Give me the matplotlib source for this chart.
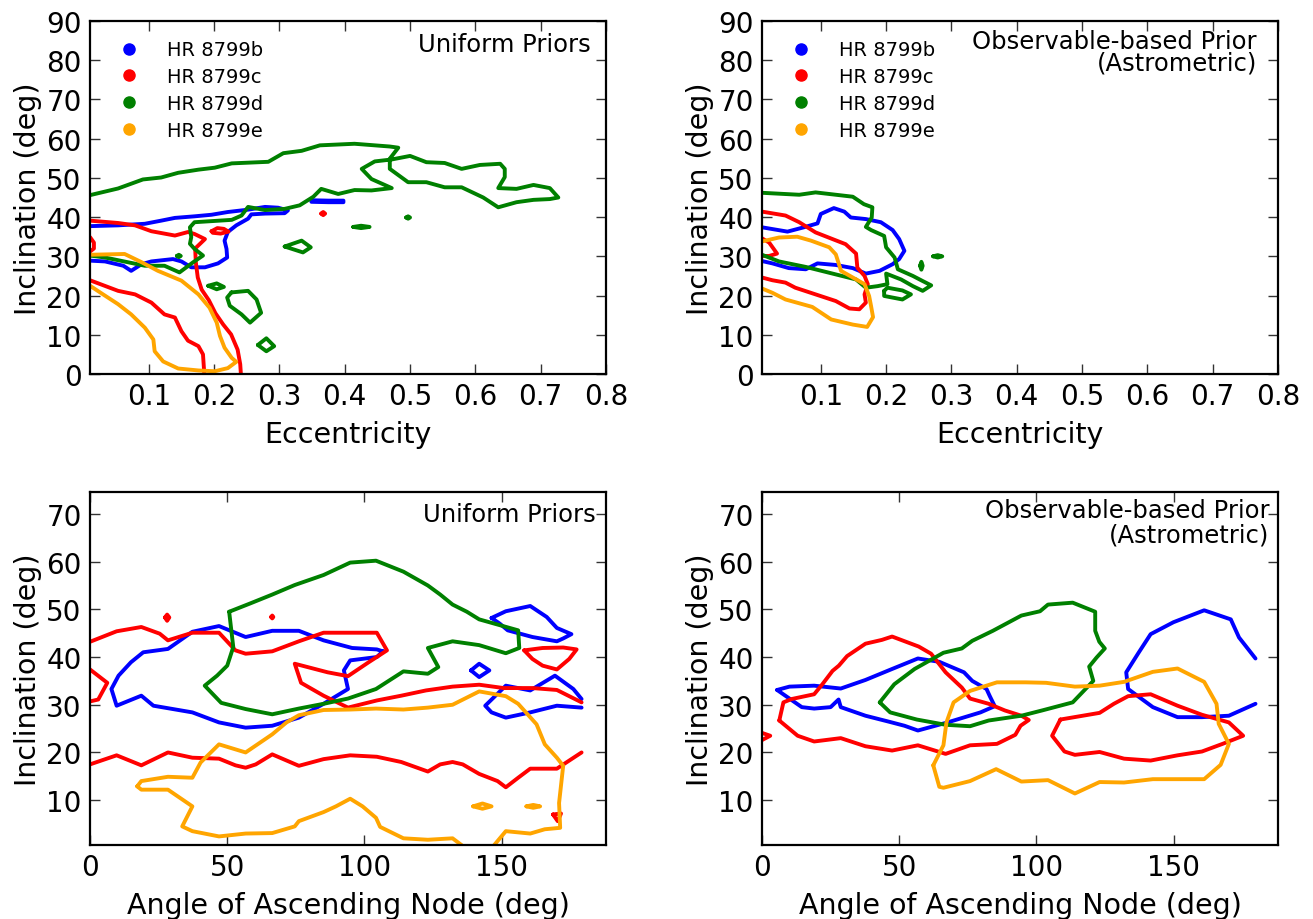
import numpy as np
import matplotlib
matplotlib.use("Agg")
import matplotlib.pyplot as plt
from matplotlib.lines import Line2D

# ---------------- data (contour vertices) ----------------
planets = ["HR 8799b", "HR 8799c", "HR 8799d", "HR 8799e"]
colors = ["#0000ff", "#ff0000", "#008000", "#ffa500"]

ecc_ticks = [0.1, 0.2, 0.3, 0.4, 0.5, 0.6, 0.7, 0.8]
inc_ticks_top = [0, 10, 20, 30, 40, 50, 60, 70, 80, 90]
node_ticks = [0, 50, 100, 150]
inc_ticks_bot = [10, 20, 30, 40, 50, 60, 70]

# ---- Top-left: eccentricity vs inclination, uniform priors ----
tl_b1_e = [0.01, 0.053, 0.094, 0.119, 0.140, 0.170, 0.196, 0.221, 0.252, 0.278, 0.298, 0.313, 0.308, 0.278,
           0.257, 0.252, 0.234, 0.221, 0.216, 0.219, 0.220, 0.206, 0.186, 0.165, 0.150, 0.137, 0.104, 0.089,
           0.073, 0.061, 0.033, 0.01]
tl_b1_i = [37.7, 37.9, 38.3, 39.1, 39.8, 40.2, 40.6, 41.3, 41.9, 42.6, 42.4, 41.7, 41.0, 40.9,
           40.7, 39.6, 37.9, 36.2, 34.0, 31.9, 29.7, 28.2, 27.2, 27.2, 28.7, 29.3, 28.7, 28.0,
           26.3, 27.6, 28.7, 28.9]
tl_b2_e = [0.349, 0.375, 0.398, 0.398, 0.375, 0.349]
tl_b2_i = [44.3, 44.2, 44.2, 43.8, 43.8, 43.9]

tl_c1_e = [0.01, 0.053, 0.079, 0.104, 0.140, 0.160, 0.170, 0.186, 0.171, 0.172, 0.175, 0.181, 0.192, 0.202,
           0.214, 0.226, 0.236, 0.240, 0.241]
tl_c1_i = [39.1, 38.5, 37.9, 36.4, 35.3, 36.2, 35.7, 34.4, 32.0, 28.5, 24.6, 21.5, 18.8, 15.5,
           12.6, 10.1, 6.2, 2.5, 0.0]
tl_c2_e = [0.01, 0.053, 0.079, 0.104, 0.124, 0.140, 0.150, 0.160, 0.176, 0.183, 0.185]
tl_c2_i = [23.9, 21.2, 20.3, 18.2, 15.2, 14.4, 10.9, 8.5, 7.1, 5.0, 0.0]
tl_c3_e = [0.01, 0.016, 0.016, 0.01]
tl_c3_i = [34.9, 33.5, 32.0, 31.2]
tl_c4_e = [0.196, 0.205, 0.215, 0.222, 0.210, 0.198]
tl_c4_i = [36.4, 37.2, 37.0, 36.3, 35.8, 36.0]
tl_c5_e = [0.364, 0.367, 0.370, 0.367]
tl_c5_i = [40.9, 41.3, 40.9, 40.5]

tl_d1_e = [0.01, 0.053, 0.091, 0.119, 0.145, 0.176, 0.201, 0.227, 0.283, 0.306, 0.334, 0.362, 0.415, 0.469,
           0.482, 0.469, 0.469, 0.497, 0.525, 0.553, 0.579, 0.612, 0.635, 0.663, 0.689, 0.714, 0.727, 0.714,
           0.689, 0.663, 0.635, 0.645, 0.645, 0.638, 0.607, 0.579, 0.553, 0.525, 0.500, 0.472, 0.446, 0.426,
           0.441, 0.472, 0.441, 0.415, 0.390, 0.364, 0.352, 0.331, 0.308, 0.278, 0.252, 0.242, 0.227, 0.170,
           0.163, 0.165, 0.163, 0.170, 0.183, 0.168, 0.147, 0.124, 0.094, 0.033, 0.01]
tl_d1_i = [45.6, 47.3, 49.6, 50.1, 51.3, 52.1, 52.6, 53.7, 54.1, 56.3, 56.9, 58.3, 58.7, 58.0,
           57.7, 54.9, 52.3, 48.9, 48.9, 47.6, 47.6, 45.0, 42.5, 43.8, 44.4, 44.6, 45.0, 47.4,
           48.2, 47.2, 47.4, 50.2, 52.3, 53.6, 53.3, 52.3, 53.8, 54.0, 55.6, 54.7, 54.2, 52.3,
           49.7, 47.4, 46.8, 46.9, 45.9, 47.2, 45.2, 43.0, 42.1, 41.8, 42.6, 40.4, 39.3, 38.7,
           37.4, 34.9, 33.2, 31.9, 30.2, 28.5, 25.9, 27.6, 27.6, 29.7, 30.2]
tl_d2_e = [0.191, 0.204, 0.215, 0.204]
tl_d2_i = [22.5, 23.1, 22.2, 21.6]
tl_d3_e = [0.2265, 0.252, 0.265, 0.272, 0.255, 0.242, 0.224, 0.220]
tl_d3_i = [20.8, 21.2, 19.0, 15.6, 13.1, 15.2, 17.4, 19.5]
tl_d4_e = [0.267, 0.280, 0.292, 0.280]
tl_d4_i = [7.4, 9.1, 7.1, 5.8]
tl_d5_e = [0.308, 0.334, 0.348, 0.336]
tl_d5_i = [32.5, 34.0, 32.3, 31.0]
tl_d6_e = [0.413, 0.425, 0.438, 0.425]
tl_d6_i = [37.5, 37.8, 37.5, 37.2]
tl_d7_e = [0.494, 0.497, 0.500, 0.497]
tl_d7_i = [39.9, 40.2, 39.9, 39.6]
tl_d8_e = [0.143, 0.146, 0.149, 0.146]
tl_d8_i = [30.1, 30.4, 30.1, 29.8]

tl_e1_e = [0.01, 0.063, 0.089, 0.114, 0.150, 0.176, 0.193, 0.204, 0.209, 0.216, 0.227, 0.234, 0.221, 0.201,
           0.176, 0.145, 0.122, 0.109, 0.107, 0.094, 0.073, 0.053, 0.030, 0.01]
tl_e1_i = [30.4, 30.6, 28.5, 26.3, 23.8, 20.3, 16.9, 13.1, 9.7, 6.7, 4.1, 3.1, 1.5, 0.7,
           0.9, 1.4, 3.2, 5.8, 8.8, 11.8, 15.2, 17.8, 20.3, 22.5]

# ---- Top-right: eccentricity vs inclination, observable-based prior ----
tr_b1_e = [0.01, 0.049, 0.074, 0.095, 0.100, 0.120, 0.136, 0.146, 0.169, 0.192, 0.210, 0.220, 0.228, 0.220,
           0.210, 0.190, 0.169, 0.149, 0.123, 0.095, 0.077, 0.051, 0.026, 0.01]
tr_b1_i = [37.4, 36.3, 37.4, 38.4, 40.8, 42.3, 41.4, 39.9, 39.5, 38.7, 36.7, 34.4, 31.4, 29.3,
           28.0, 26.3, 25.6, 27.0, 27.8, 28.2, 26.7, 27.0, 28.2, 28.8]

tr_c1_e = [0.01, 0.046, 0.067, 0.092, 0.118, 0.138, 0.154, 0.156, 0.167, 0.172, 0.167, 0.169, 0.159, 0.144,
           0.123, 0.092, 0.061, 0.046, 0.026, 0.01]
tr_c1_i = [41.4, 40.4, 38.7, 36.1, 34.4, 33.1, 30.7, 27.1, 25.0, 22.9, 20.3, 18.2, 16.5, 16.7,
           18.6, 20.3, 22.0, 23.3, 23.9, 24.6]
tr_c2_e = [0.01, 0.021, 0.033, 0.021, 0.01]
tr_c2_i = [34.6, 33.5, 30.7, 30.1, 30.1]

tr_d1_e = [0.01, 0.067, 0.092, 0.149, 0.166, 0.179, 0.178, 0.169, 0.177, 0.197, 0.200, 0.213, 0.218, 0.241,
           0.256, 0.269, 0.256, 0.241, 0.223, 0.200, 0.202, 0.187, 0.169, 0.154, 0.118, 0.077, 0.036, 0.01]
tr_d1_i = [46.2, 45.7, 46.3, 45.2, 43.3, 42.5, 39.9, 37.5, 36.7, 35.2, 32.3, 29.7, 26.7, 25.0,
           23.7, 22.6, 21.2, 22.4, 24.1, 25.6, 22.9, 22.4, 22.0, 24.1, 25.6, 27.3, 28.7, 30.4]
tr_d2_e = [0.197, 0.197, 0.225, 0.238, 0.225, 0.202]
tr_d2_i = [21.2, 19.9, 19.0, 20.3, 21.3, 22.0]
tr_d3_e = [0.252, 0.254, 0.256, 0.254]
tr_d3_i = [27.6, 28.6, 27.6, 26.6]
tr_d4_e = [0.272, 0.279, 0.286, 0.279]
tr_d4_i = [30.0, 30.3, 30.0, 29.7]

tr_e1_e = [0.01, 0.036, 0.064, 0.085, 0.113, 0.123, 0.131, 0.149, 0.167, 0.174, 0.177, 0.180, 0.171, 0.149,
           0.116, 0.087, 0.046, 0.026, 0.01]
tr_e1_i = [33.8, 34.8, 35.0, 34.0, 32.3, 30.5, 26.3, 24.6, 22.9, 19.9, 17.3, 14.5, 12.0, 12.6,
           13.9, 17.1, 19.0, 20.7, 21.8]

# ---- Bottom-left: node angle vs inclination, uniform priors ----
bl_b1_n = [106.7, 104.5, 95.5, 85.1, 76.1, 66.4, 56.7, 47.0, 37.3, 28.4, 19.4, 14.9, 10.4, 7.8, 9.7,
           18.7, 23.1, 37.3, 47.0, 56.7, 66.4, 76.1, 85.1, 94.0, 92.5, 94.8, 104.5, 106.7]
bl_b1_i = [41.2, 41.6, 41.9, 43.5, 45.5, 45.5, 44.2, 46.5, 45.3, 41.7, 41.0, 38.9, 36.1, 33.3, 29.8,
           31.9, 29.8, 28.4, 26.3, 25.2, 25.6, 27.3, 30.2, 33.3, 37.2, 39.3, 40.0, 41.2]
bl_b2_n = [146.3, 151.5, 160.4, 166.4, 170.1, 175.4, 172.4, 170.1, 161.2, 152.2, 149.3]
bl_b2_i = [48.2, 49.6, 50.7, 48.4, 46.1, 44.8, 43.9, 43.3, 44.2, 45.6, 47.0]
bl_b3_n = [138.8, 141.8, 145.5, 141.8]
bl_b3_i = [37.2, 38.6, 37.2, 35.8]
bl_b4_n = [179.1, 176.1, 169.4, 160.4, 151.5, 144.0, 146.3, 151.5, 160.4, 170.1, 179.1]
bl_b4_i = [31.2, 33.3, 36.1, 33.0, 34.0, 29.8, 28.4, 27.3, 28.4, 29.8, 29.4]

bl_c1_n = [0.0, 9.7, 18.7, 25.4, 28.4, 37.3, 47.0, 53.0, 56.7, 66.4, 76.1, 85.1, 104.5, 108.2, 101.5,
           94.0, 86.6, 74.6, 76.9, 85.1, 94.0, 104.5, 113.4, 122.4, 132.1, 141.8, 150.7, 161.2, 170.1, 179.1]
bl_c1_i = [43.2, 45.4, 46.3, 44.9, 43.5, 45.1, 45.1, 41.4, 40.7, 41.2, 43.3, 45.1, 45.1, 41.4, 38.9,
           36.0, 36.8, 38.6, 34.6, 31.9, 29.4, 30.9, 31.9, 33.0, 33.8, 34.2, 33.5, 33.5, 33.1, 30.5]
bl_c2_n = [0.0, 9.7, 18.7, 28.4, 37.3, 47.0, 53.0, 56.7, 60.4, 66.4, 76.1, 85.1, 94.8, 104.5, 113.4,
           123.1, 127.6, 132.1, 135.8, 141.8, 148.5, 151.5, 156.0, 160.4, 170.1, 179.1]
bl_c2_i = [17.5, 19.4, 17.3, 20.0, 18.9, 18.7, 17.3, 16.8, 17.5, 19.6, 17.2, 18.6, 19.4, 19.1, 18.0,
           16.0, 17.5, 18.0, 17.5, 15.5, 14.0, 12.7, 14.7, 16.6, 16.6, 20.0]
bl_c3_n = [0.0, 6.3, 3.0, 0.0]
bl_c3_i = [37.4, 34.6, 31.1, 30.7]
bl_c4_n = [158.2, 164.9, 172.4, 177.3, 174.6, 170.1, 164.9, 161.2]
bl_c4_i = [41.4, 41.9, 42.0, 41.6, 39.6, 37.4, 38.2, 39.6]
bl_c5_n = [168.7, 171.6, 170.4]
bl_c5_i = [7.0, 7.2, 5.6]
bl_c6_n = [27.3, 28.1, 28.9, 28.1]
bl_c6_i = [48.3, 48.9, 48.3, 47.6]
bl_c7_n = [66.0, 66.4, 66.8, 66.4]
bl_c7_i = [48.4, 48.7, 48.4, 48.1]

bl_d1_n = [50.7, 58.2, 66.4, 74.6, 85.1, 94.8, 104.2, 114.2, 123.1, 127.6, 132.1, 137.3, 141.8, 156.0,
           156.4, 151.5, 141.8, 132.1, 123.1, 126.9, 123.1, 114.2, 104.2, 94.0, 85.1, 76.1, 66.4, 56.7,
           47.8, 41.8, 46.3, 50.0, 52.2]
bl_d1_i = [49.5, 51.2, 53.1, 55.1, 57.2, 59.8, 60.2, 57.9, 55.0, 53.1, 51.0, 49.5, 47.9, 45.6,
           41.9, 40.8, 42.5, 43.3, 41.9, 37.9, 36.5, 37.0, 33.3, 31.3, 30.2, 29.2, 28.0, 29.1,
           30.4, 34.0, 36.1, 38.2, 42.1]

bl_e1_n = [17.2, 18.7, 28.4, 37.3, 40.3, 47.0, 56.7, 66.4, 71.6, 76.1, 85.1, 94.8, 104.2, 114.2, 123.1,
           132.1, 141.8, 151.5, 156.0, 162.7, 165.7, 170.1, 172.4, 170.9, 171.3, 165.7, 160.4, 151.5, 147.0,
           146.0, 137.0, 135.8, 132.1, 123.1, 114.2, 105.7, 104.2, 99.3, 94.8, 89.6, 85.1, 76.1, 74.6, 66.4,
           56.7, 47.0, 37.3, 33.6, 37.3, 28.4, 18.7]
bl_e1_i = [12.9, 14.0, 14.9, 14.7, 17.9, 21.7, 20.0, 23.8, 26.3, 27.8, 28.9, 29.0, 29.2, 29.0, 29.4,
           30.0, 32.8, 31.8, 30.2, 25.9, 21.7, 18.9, 17.2, 9.4, 4.2, 3.9, 3.0, 3.5, 0.4,
           -3.0, -3.0, 0.4, 2.0, 1.7, 2.0, 4.4, 6.3, 8.7, 10.3, 8.7, 7.5, 5.6, 4.5, 3.1,
           3.0, 2.4, 3.5, 4.5, 8.7, 12.2, 12.2]
bl_e2_n = [139.6, 143.0, 146.3, 143.0]
bl_e2_i = [8.7, 9.3, 8.7, 8.2]
bl_e3_n = [159.0, 161.5, 164.0, 161.5]
bl_e3_i = [8.7, 9.0, 8.7, 8.4]

# ---- Bottom-right: node angle vs inclination, observable-based prior ----
br_b1_n = [5.5, 10.0, 19.0, 28.7, 37.7, 47.4, 56.8, 64.6, 73.6, 76.6, 81.8, 83.0, 84.8, 79.6, 67.6,
           56.8, 51.9, 45.9, 37.7, 28.7, 27.9, 25.0, 19.0, 14.5]
br_b1_i = [33.1, 33.8, 34.0, 33.4, 35.2, 37.5, 39.7, 39.0, 36.8, 35.0, 33.3, 31.8, 29.7, 28.4, 26.3,
           24.6, 25.6, 26.5, 27.7, 29.5, 31.1, 29.5, 29.2, 29.5]
br_b2_n = [179.8, 173.8, 170.8, 161.1, 149.9, 141.6, 137.2, 132.7, 133.4, 142.4, 151.4, 160.3, 170.1, 179.8]
br_b2_i = [39.7, 44.1, 47.9, 49.8, 47.3, 44.8, 40.9, 36.8, 33.3, 29.5, 27.4, 27.4, 27.7, 30.2]

br_c1_n = [6.3, 7.8, 10.8, 19.0, 22.0, 25.7, 28.0, 31.0, 37.7, 43.7, 47.4, 57.1, 61.6, 66.9, 72.8,
           75.8, 82.6, 88.5, 94.5, 97.2, 94.2, 92.3, 85.6, 75.8, 66.9, 56.8, 47.4, 37.7, 28.7, 19.0, 13.0]
br_c1_i = [26.7, 30.5, 31.2, 32.2, 34.3, 37.1, 38.2, 40.2, 42.8, 43.6, 44.3, 42.2, 40.7, 36.8, 33.6,
           31.3, 30.2, 28.8, 27.7, 26.8, 25.6, 23.7, 21.8, 21.5, 19.7, 21.5, 20.4, 21.3, 23.0, 22.3, 23.5]
br_c2_n = [0.0, 3.0, 0.0]
br_c2_i = [24.1, 23.5, 22.6]
br_c3_n = [108.7, 123.0, 128.2, 133.4, 141.6, 151.4, 160.3, 170.1, 175.3, 167.8, 160.3, 151.4, 141.6,
           131.9, 123.0, 114.0, 110.2, 105.7]
br_c3_i = [26.9, 28.3, 30.2, 31.8, 32.2, 29.8, 27.9, 26.3, 23.5, 21.8, 20.2, 19.4, 18.3,
           18.7, 20.1, 19.5, 20.2, 23.5]

br_d1_n = [42.9, 48.2, 55.6, 66.1, 72.8, 76.6, 84.1, 94.5, 101.3, 104.2, 113.2, 121.4, 121.4, 122.9,
           124.9, 121.9, 119.2, 120.7, 113.2, 102.0, 94.5, 82.6, 75.8, 66.9, 56.4, 46.7]
br_d1_i = [30.5, 34.3, 37.5, 40.9, 41.8, 43.4, 45.5, 48.7, 49.6, 51.0, 51.4, 49.5, 45.5, 43.2,
           41.8, 39.9, 38.0, 35.0, 30.5, 28.8, 27.7, 26.7, 25.5, 25.8, 26.9, 28.4]

br_e1_n = [62.4, 66.1, 67.2, 69.8, 75.8, 85.6, 96.0, 103.5, 114.0, 123.0, 131.9, 142.4, 151.4, 161.1,
           165.6, 166.4, 170.1, 167.1, 161.1, 142.4, 131.9, 123.0, 114.0, 104.2, 94.5, 85.3, 75.8, 66.1, 64.6]
br_e1_i = [17.3, 21.5, 26.3, 30.5, 32.9, 34.7, 34.7, 34.6, 33.8, 34.0, 34.8, 36.9, 37.6, 34.8,
           30.2, 26.0, 21.8, 17.4, 14.4, 14.4, 13.7, 13.8, 11.4, 14.2, 13.9, 16.5, 14.0, 12.6, 12.8]

# ---------------- plotting ----------------
B, R, G, O = colors

# (x, y, color, closed)
tl_paths = [
    (tl_b1_e, tl_b1_i, B, False), (tl_b2_e, tl_b2_i, B, True),
    (tl_c1_e, tl_c1_i, R, False), (tl_c2_e, tl_c2_i, R, False), (tl_c3_e, tl_c3_i, R, False),
    (tl_c4_e, tl_c4_i, R, True), (tl_c5_e, tl_c5_i, R, True),
    (tl_d1_e, tl_d1_i, G, False), (tl_d2_e, tl_d2_i, G, True), (tl_d3_e, tl_d3_i, G, True),
    (tl_d4_e, tl_d4_i, G, True), (tl_d5_e, tl_d5_i, G, True), (tl_d6_e, tl_d6_i, G, True),
    (tl_d7_e, tl_d7_i, G, True), (tl_d8_e, tl_d8_i, G, True),
    (tl_e1_e, tl_e1_i, O, False),
]
tr_paths = [
    (tr_b1_e, tr_b1_i, B, False),
    (tr_c1_e, tr_c1_i, R, False), (tr_c2_e, tr_c2_i, R, False),
    (tr_d1_e, tr_d1_i, G, False), (tr_d2_e, tr_d2_i, G, True), (tr_d3_e, tr_d3_i, G, True),
    (tr_d4_e, tr_d4_i, G, True),
    (tr_e1_e, tr_e1_i, O, False),
]
bl_paths = [
    (bl_b1_n, bl_b1_i, B, False), (bl_b2_n, bl_b2_i, B, True), (bl_b3_n, bl_b3_i, B, True),
    (bl_b4_n, bl_b4_i, B, False),
    (bl_c1_n, bl_c1_i, R, False), (bl_c2_n, bl_c2_i, R, False), (bl_c3_n, bl_c3_i, R, False),
    (bl_c4_n, bl_c4_i, R, True), (bl_c5_n, bl_c5_i, R, True), (bl_c6_n, bl_c6_i, R, True),
    (bl_c7_n, bl_c7_i, R, True),
    (bl_d1_n, bl_d1_i, G, True),
    (bl_e1_n, bl_e1_i, O, True), (bl_e2_n, bl_e2_i, O, True), (bl_e3_n, bl_e3_i, O, True),
]
br_paths = [
    (br_b1_n, br_b1_i, B, True), (br_b2_n, br_b2_i, B, False),
    (br_c1_n, br_c1_i, R, True), (br_c2_n, br_c2_i, R, False), (br_c3_n, br_c3_i, R, True),
    (br_d1_n, br_d1_i, G, True),
    (br_e1_n, br_e1_i, O, True),
]

fig = plt.figure(figsize=(13.13, 9.2), dpi=100)
W, H = 1313.0, 920.0


def make_ax(left, top, right, bottom):
    return fig.add_axes([left / W, 1 - bottom / H, (right - left) / W, (bottom - top) / H])


ax_tl = make_ax(90, 22, 606, 375)
ax_tr = make_ax(762, 22, 1278, 375)
ax_bl = make_ax(90, 493, 606, 846)
ax_br = make_ax(762, 493, 1278, 846)

LW = 2.8


def draw(ax, paths):
    for x, y, c, closed in paths:
        x = list(x)
        y = list(y)
        if closed:
            x = x + x[:1]
            y = y + y[:1]
        ax.plot(x, y, color=c, lw=LW, solid_joinstyle="round", solid_capstyle="round")


def style(ax):
    ax.tick_params(direction="in", top=True, right=True, length=7, width=1.0,
                   labelsize=20, pad=6, color="#333333")
    for s in ax.spines.values():
        s.set_linewidth(1.6)


for ax, paths in [(ax_tl, tl_paths), (ax_tr, tr_paths)]:
    draw(ax, paths)
    ax.set_xlim(0.01, 0.8)
    ax.set_ylim(0, 90)
    ax.set_xticks(ecc_ticks)
    ax.set_xticklabels([f"{v:.1f}" for v in ecc_ticks])
    ax.set_yticks(inc_ticks_top)
    ax.set_xlabel("Eccentricity", fontsize=20.5, labelpad=7)
    ax.set_ylabel("Inclination (deg)", fontsize=20.5, labelpad=3)
    style(ax)
    handles = [Line2D([], [], marker="o", linestyle="none", color=c, markeredgecolor=c,
                      markersize=8) for c in colors]
    ax.legend(handles, planets, loc="upper left", frameon=False, fontsize=14, numpoints=1,
              handlelength=2.0, handletextpad=0.95, borderaxespad=0.5, borderpad=0.5,
              labelspacing=0.4)

for ax, paths in [(ax_bl, bl_paths), (ax_br, br_paths)]:
    draw(ax, paths)
    ax.set_xlim(0, 188)
    ax.set_ylim(0.6, 74.6)
    ax.set_xticks(node_ticks)
    ax.set_yticks(inc_ticks_bot)
    ax.set_xlabel("Angle of Ascending Node (deg)", fontsize=20.5, labelpad=7)
    ax.set_ylabel("Inclination (deg)", fontsize=20.5, labelpad=3)
    style(ax)

TFS = 17.5
ax_tl.text(0.971, 0.916, "Uniform Priors", transform=ax_tl.transAxes,
           ha="right", va="baseline", fontsize=TFS)
ax_bl.text(0.981, 0.919, "Uniform Priors", transform=ax_bl.transAxes,
           ha="right", va="baseline", fontsize=TFS)
ax_tr.text(0.959, 0.864, "Observable-based Prior\n(Astrometric)", transform=ax_tr.transAxes,
           ha="right", va="baseline", multialignment="right", linespacing=0.85, fontsize=TFS)
ax_br.text(0.984, 0.860, "Observable-based Prior\n(Astrometric)", transform=ax_br.transAxes,
           ha="right", va="baseline", multialignment="right", linespacing=1.0, fontsize=TFS)

fig.savefig("out.png", dpi=100)
